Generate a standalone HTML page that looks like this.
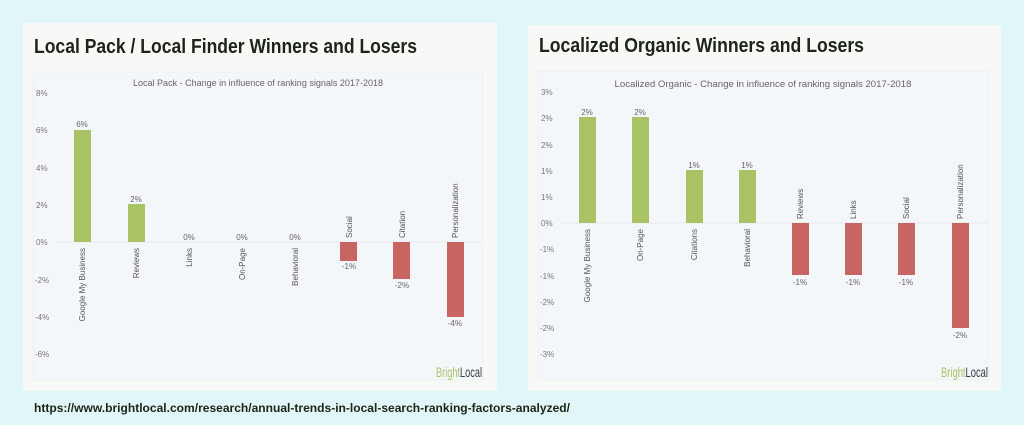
<!DOCTYPE html>
<html><head><meta charset="utf-8"><style>
html,body{margin:0;padding:0;background:#e0f6f8;}
svg{display:block;font-family:"Liberation Sans",sans-serif;}
</style></head><body>
<svg width="1024" height="425" viewBox="0 0 1024 425" xmlns="http://www.w3.org/2000/svg">
<rect width="1024" height="425" fill="#e0f6f8"/>
<!-- Left card -->
<rect x="23" y="23" width="474" height="368" fill="#f8f8f6"/>
<text x="34" y="53" font-size="20" font-weight="bold" fill="#1d2418" textLength="383" lengthAdjust="spacingAndGlyphs">Local Pack / Local Finder Winners and Losers</text>
<rect x="33" y="72" width="450" height="308" fill="#f4f7fa" stroke="#eef0f2"/>
<text x="258" y="86" font-size="9" fill="#666" text-anchor="middle" textLength="250" lengthAdjust="spacingAndGlyphs">Local Pack - Change in influence of ranking signals 2017-2018</text>
<g font-size="8" fill="#777">
<text x="36" y="96">8%</text><text x="36" y="133">6%</text><text x="36" y="171">4%</text><text x="36" y="208">2%</text><text x="36" y="245">0%</text><text x="35" y="283">-2%</text><text x="35" y="320">-4%</text><text x="35" y="357">-6%</text>
</g>
<line x1="56" y1="242" x2="482" y2="242" stroke="#e6eaee"/>
<g fill="#a9c264">
<rect x="74" y="130" width="17" height="112"/>
<rect x="128" y="204" width="17" height="38"/>
</g>
<g fill="#c86461">
<rect x="340" y="242" width="17" height="19"/>
<rect x="393" y="242" width="17" height="37"/>
<rect x="447" y="242" width="17" height="75"/>
</g>
<g font-size="8" fill="#666" text-anchor="middle">
<text x="82" y="127">6%</text><text x="136" y="202">2%</text><text x="189" y="240">0%</text><text x="242" y="240">0%</text><text x="295" y="240">0%</text>
<text x="349" y="269">-1%</text><text x="402" y="288">-2%</text><text x="455" y="326">-4%</text>
</g>
<g font-size="8" fill="#555" text-anchor="end">
<text transform="translate(85,248) rotate(-90)">Google My Business</text>
<text transform="translate(139,248) rotate(-90)">Reviews</text>
<text transform="translate(192,248) rotate(-90)">Links</text>
<text transform="translate(245,248) rotate(-90)">On-Page</text>
<text transform="translate(298,248) rotate(-90)">Behavioral</text>
<text transform="translate(352,238) rotate(-90)" text-anchor="start">Social</text>
<text transform="translate(405,238) rotate(-90)" text-anchor="start">Citation</text>
<text transform="translate(458,238) rotate(-90)" text-anchor="start">Personalization</text>
</g>
<text x="436" y="377" font-size="14" textLength="46" lengthAdjust="spacingAndGlyphs"><tspan fill="#a9c264">Bright</tspan><tspan fill="#333a44">Local</tspan></text>

<!-- Right card -->
<rect x="528" y="25" width="473" height="366" fill="#f8f8f6"/>
<text x="539" y="52" font-size="20" font-weight="bold" fill="#1d2418" textLength="325" lengthAdjust="spacingAndGlyphs">Localized Organic Winners and Losers</text>
<rect x="538" y="71" width="451" height="309" fill="#f4f7fa" stroke="#eef0f2"/>
<text x="763" y="87" font-size="9" fill="#666" text-anchor="middle" textLength="297" lengthAdjust="spacingAndGlyphs">Localized Organic - Change in influence of ranking signals 2017-2018</text>
<g font-size="8" fill="#777">
<text x="541" y="95">3%</text><text x="541" y="121">2%</text><text x="541" y="148">2%</text><text x="541" y="174">1%</text><text x="541" y="200">1%</text><text x="541" y="226">0%</text><text x="540" y="252">-1%</text><text x="540" y="279">-1%</text><text x="540" y="305">-2%</text><text x="540" y="331">-2%</text><text x="540" y="357">-3%</text>
</g>
<line x1="560" y1="223" x2="988" y2="223" stroke="#e6eaee"/>
<g fill="#a9c264">
<rect x="579" y="117" width="17" height="106"/>
<rect x="632" y="117" width="17" height="106"/>
<rect x="686" y="170" width="17" height="53"/>
<rect x="739" y="170" width="17" height="53"/>
</g>
<g fill="#c86461">
<rect x="792" y="223" width="17" height="52"/>
<rect x="845" y="223" width="17" height="52"/>
<rect x="898" y="223" width="17" height="52"/>
<rect x="952" y="223" width="17" height="105"/>
</g>
<g font-size="8" fill="#666" text-anchor="middle">
<text x="587" y="115">2%</text><text x="640" y="115">2%</text><text x="694" y="168">1%</text><text x="747" y="168">1%</text>
<text x="800" y="285">-1%</text><text x="853" y="285">-1%</text><text x="906" y="285">-1%</text><text x="960" y="338">-2%</text>
</g>
<g font-size="8" fill="#555" text-anchor="end">
<text transform="translate(590,229) rotate(-90)">Google My Business</text>
<text transform="translate(643,229) rotate(-90)">On-Page</text>
<text transform="translate(697,229) rotate(-90)">Citations</text>
<text transform="translate(750,229) rotate(-90)">Behavioral</text>
<text transform="translate(803,219) rotate(-90)" text-anchor="start">Reviews</text>
<text transform="translate(856,219) rotate(-90)" text-anchor="start">Links</text>
<text transform="translate(909,219) rotate(-90)" text-anchor="start">Social</text>
<text transform="translate(963,219) rotate(-90)" text-anchor="start">Personalization</text>
</g>
<text x="941" y="377" font-size="14" textLength="47" lengthAdjust="spacingAndGlyphs"><tspan fill="#a9c264">Bright</tspan><tspan fill="#333a44">Local</tspan></text>

<text x="34" y="412" font-size="12" font-weight="bold" fill="#1d2418" textLength="536" lengthAdjust="spacingAndGlyphs">https://www.brightlocal.com/research/annual-trends-in-local-search-ranking-factors-analyzed/</text>
</svg>
</body></html>
